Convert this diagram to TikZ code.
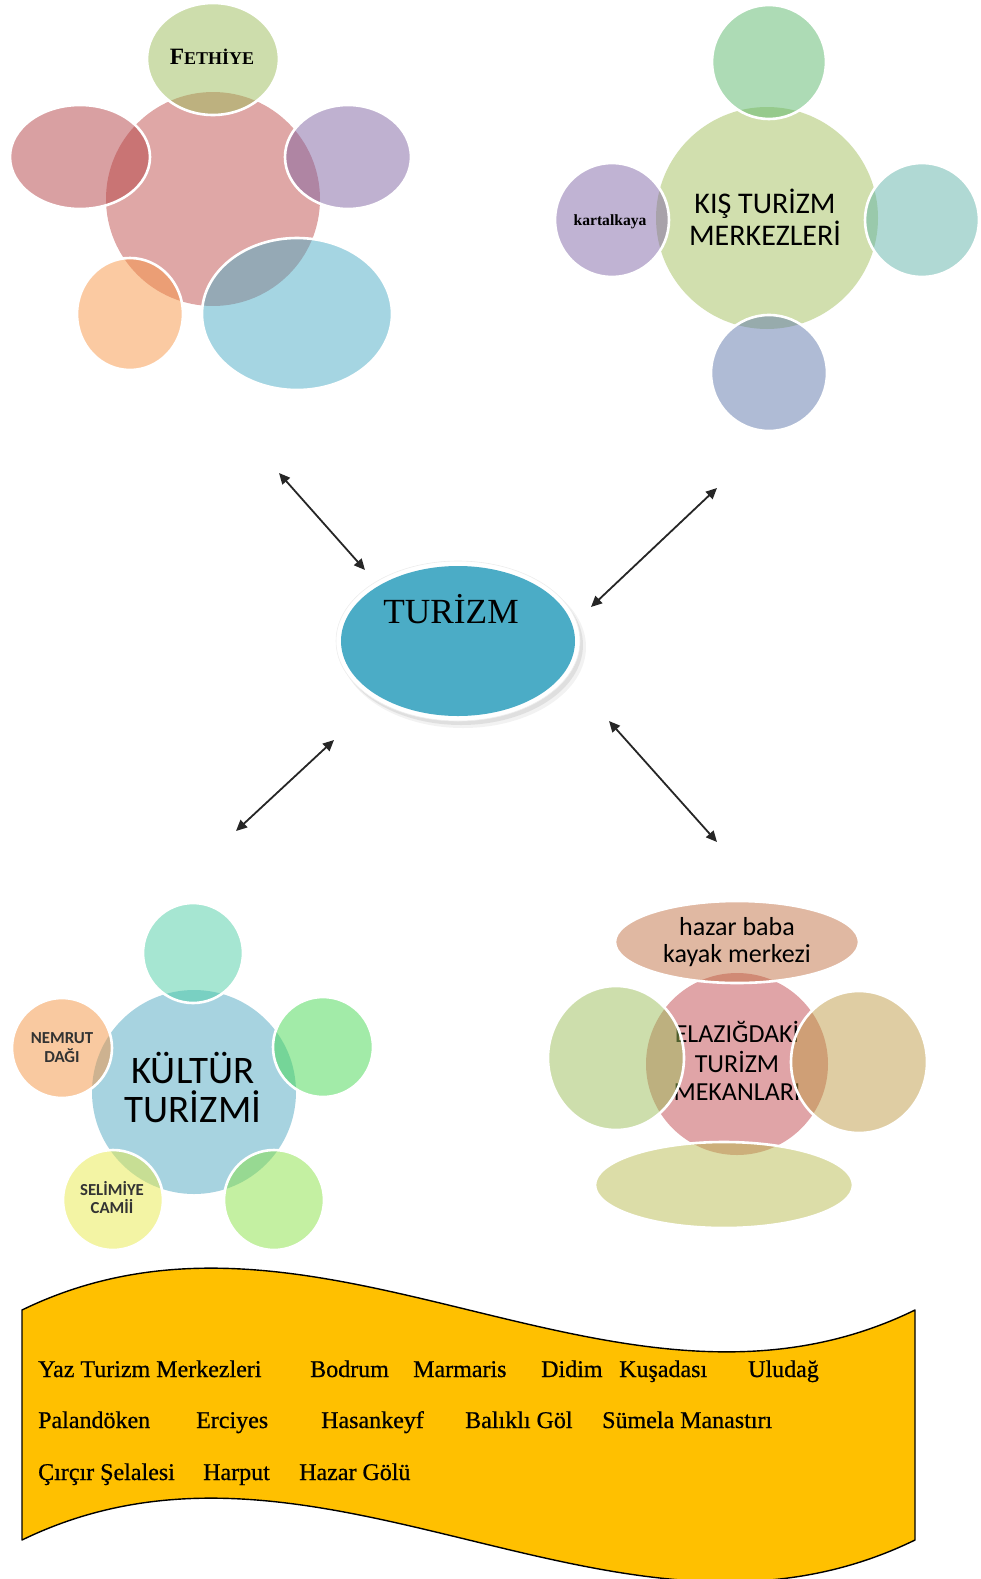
\documentclass[tikz,border=0pt]{standalone}
\usepackage{fontspec}
\setmainfont{Liberation Serif}
\newfontfamily\calib{Carlito}
\newfontfamily\bannerfont[FakeBold=0.7]{Liberation Serif}
\usetikzlibrary{arrows.meta}

% base colours; bubbles are filled at half opacity
\definecolor{tlHub}{HTML}{C0504D}
\definecolor{tlTop}{HTML}{9BBB59}
\definecolor{tlLeft}{HTML}{B34145}
\definecolor{tlRight}{HTML}{8064A2}
\definecolor{tlLow}{HTML}{F79646}
\definecolor{tlBlue}{HTML}{4BACC6}
\definecolor{trHub}{HTML}{A3BF5D}
\definecolor{trTop}{HTML}{5BB76B}
\definecolor{trLeft}{HTML}{8167A7}
\definecolor{trRight}{HTML}{61B3A9}
\definecolor{trBot}{HTML}{5F77AB}
\definecolor{blHub}{HTML}{4FA7C1}
\definecolor{blTop}{HTML}{4DCDA5}
\definecolor{blRight}{HTML}{45D751}
\definecolor{blLowR}{HTML}{89E145}
\definecolor{blLowL}{HTML}{E7E949}
\definecolor{blLeft}{HTML}{F39341}
\definecolor{brHub}{HTML}{C1494F}
\definecolor{brTop}{HTML}{C17145}
\definecolor{brLeft}{HTML}{9BBD59}
\definecolor{brRight}{HTML}{BF9B47}
\definecolor{brBot}{HTML}{B9BB51}
\definecolor{centre}{HTML}{4BACC6}
\definecolor{banner}{HTML}{FFC000}

\tikzset{
  hub/.style={fill opacity=0.5},
  bub/.style={fill opacity=0.5, draw=white, draw opacity=1, line width=2.6pt},
  lbl/.style={inner sep=0pt, anchor=base, text=black},
  link/.style={{Triangle[length=11pt,width=10pt]}-{Triangle[length=11pt,width=10pt]}, line width=1.8pt, black!85},
  word/.style={inner sep=0pt, anchor=base west, font=\bannerfont\fontsize{24}{24}\selectfont},
}

\begin{document}
\begin{tikzpicture}[x=1pt,y=-1pt]
\useasboundingbox (0,0) rectangle (981,1579);

% ---------- summer cluster (top left) ----------
\path[hub, fill=tlHub] (213,199) circle [radius=107pt];
\path[bub, fill=tlTop] (213,59) ellipse [x radius=66pt, y radius=56pt];
\path[bub, fill=tlLeft] (80,157) ellipse [x radius=70pt, y radius=52pt];
\path[bub, fill=tlRight] (348,157) ellipse [x radius=63pt, y radius=52pt];
\path[bub, fill=tlLow] (130,314) ellipse [x radius=53pt, y radius=56pt];
\path[bub, fill=tlBlue] (297,314) ellipse [x radius=95pt, y radius=76pt];
\node[lbl, font=\bfseries] (fethiye) at (212,65)
  {\fontsize{23.4}{23.4}\selectfont F\fontsize{18}{18}\selectfont ETHİYE};

% ---------- winter cluster (top right) ----------
\path[hub, fill=trHub] (767,218) circle [radius=111pt];
\path[bub, fill=trTop] (769,62) circle [radius=57pt];
\path[bub, fill=trLeft] (612,220) circle [radius=57pt];
\path[bub, fill=trRight] (922,220) circle [radius=57pt];
\path[bub, fill=trBot] (769,373) circle [radius=58pt];
\node[lbl, font=\bfseries\fontsize{15.6}{15.6}\selectfont] (kartal) at (610,225) {kartalkaya};
\node[lbl, font=\calib\fontsize{30}{30}\selectfont] (kis1) at (765,213) {KIŞ TURİZM};
\node[lbl, font=\calib\fontsize{30}{30}\selectfont] (kis2) at (765,245) {MERKEZLERİ};

% ---------- central node ----------
\fill[black, opacity=0.05] (463,647) ellipse [x radius=123pt, y radius=81pt];
\fill[black, opacity=0.08] (461,645) ellipse [x radius=122pt, y radius=80pt];
\fill[white, draw=black!7, line width=0.6pt] (458,641) ellipse [x radius=122pt, y radius=80pt];
\fill[centre] (458,641) ellipse [x radius=117pt, y radius=75pt];
\node[lbl, font=\fontsize{35.3}{35.3}\selectfont] (turizm) at (451,623) {TURİZM};

% ---------- connectors ----------
\coordinate (a1o) at (279,473);  \coordinate (a1i) at (365,570);
\coordinate (a2o) at (717,488);  \coordinate (a2i) at (591,607);
\coordinate (a3o) at (236,831);  \coordinate (a3i) at (334,740);
\coordinate (a4o) at (717,842);  \coordinate (a4i) at (609,721);
\draw[link] (a1o) -- (a1i);
\draw[link] (a2o) -- (a2i);
\draw[link] (a3o) -- (a3i);
\draw[link] (a4o) -- (a4i);

% ---------- culture cluster (bottom left) ----------
\path[hub, fill=blHub] (194,1092) circle [radius=102pt];
\path[bub, fill=blTop] (193,953) circle [radius=50pt];
\path[bub, fill=blRight] (323,1047) circle [radius=50pt];
\path[bub, fill=blLowR] (274,1200) circle [radius=50pt];
\path[bub, fill=blLowL] (113,1200) circle [radius=50pt];
\path[bub, fill=blLeft] (62,1048) circle [radius=50pt];
\node[lbl, font=\calib\fontsize{39}{39}\selectfont] (kul1) at (193,1083) {KÜLTÜR};
\node[lbl, font=\calib\fontsize{39}{39}\selectfont] (kul2) at (193,1122) {TURİZMİ};
\node[lbl, text=black!80, font=\calib\bfseries\fontsize{16.8}{16.8}\selectfont] (nem1) at (62,1043) {NEMRUT};
\node[lbl, text=black!80, font=\calib\bfseries\fontsize{16.8}{16.8}\selectfont] (nem2) at (62,1062) {DAĞI};
\node[lbl, text=black!80, font=\calib\bfseries\fontsize{16.8}{16.8}\selectfont] (sel1) at (112,1195) {SELİMİYE};
\node[lbl, text=black!80, font=\calib\bfseries\fontsize{16.8}{16.8}\selectfont] (sel2) at (112,1213) {CAMİİ};

% ---------- Elazığ cluster (bottom right) ----------
\path[hub, fill=brHub] (737,1064) circle [radius=91pt];
\node[lbl, font=\calib\fontsize{26}{26}\selectfont] (ela1) at (737,1042) {ELAZIĞDAKİ};
\node[lbl, font=\calib\fontsize{26}{26}\selectfont] (ela2) at (737,1072) {TURİZM};
\node[lbl, font=\calib\fontsize{26}{26}\selectfont] (ela3) at (737,1100) {MEKANLARI};
\path[bub, fill=brTop] (737,942) ellipse [x radius=122pt, y radius=41pt];
\path[bub, fill=brLeft] (616,1058) ellipse [x radius=68pt, y radius=72pt];
\path[bub, fill=brRight] (859,1062) ellipse [x radius=68pt, y radius=71pt];
\path[bub, fill=brBot] (724,1185) ellipse [x radius=129pt, y radius=43pt];
\node[lbl, font=\calib\fontsize{26}{26}\selectfont] (haz1) at (737,935) {hazar baba};
\node[lbl, font=\calib\fontsize{26}{26}\selectfont] (haz2) at (737,962) {kayak merkezi};

% ---------- wave banner ----------
\draw[fill=banner, line width=1.4pt, line join=round]
  (22,1310) .. controls (320,1165) and (618,1455) .. (915,1310)
  -- (915,1540) .. controls (618,1685) and (320,1395) .. (22,1540) -- cycle;

\node[word] (w1)  at (38,1377)  {Yaz Turizm Merkezleri};
\node[word] (w2)  at (310,1377) {Bodrum};
\node[word] (w3)  at (413,1377) {Marmaris};
\node[word] (w4)  at (541,1377) {Didim};
\node[word] (w5)  at (619,1377) {Kuşadası};
\node[word] (w6)  at (748,1377) {Uludağ};
\node[word] (w7)  at (38,1428)  {Palandöken};
\node[word] (w8)  at (196,1428) {Erciyes};
\node[word] (w9)  at (321,1428) {Hasankeyf};
\node[word] (w10) at (465,1428) {Balıklı Göl};
\node[word] (w11) at (602,1428) {Sümela Manastırı};
\node[word] (w12) at (38,1480)  {Çırçır Şelalesi};
\node[word] (w13) at (203,1480) {Harput};
\node[word] (w14) at (299,1480) {Hazar Gölü};
\end{tikzpicture}
\end{document}
